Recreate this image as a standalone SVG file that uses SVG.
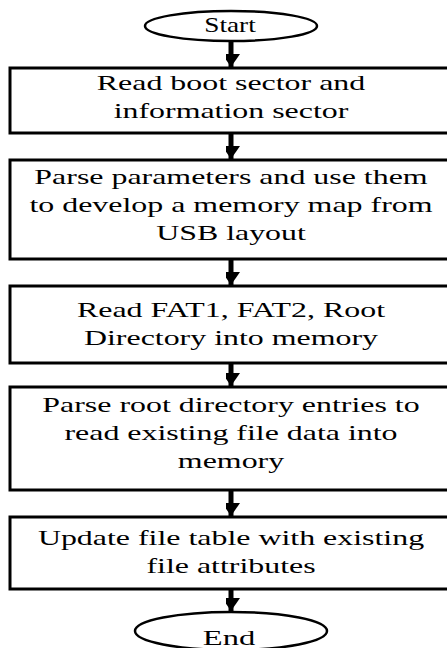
<svg xmlns="http://www.w3.org/2000/svg" width="447" height="648" viewBox="0 0 447 648">
  <style>
    .box { fill: #fff; stroke: #000; stroke-width: 3; }
    .term { fill: #fff; stroke: #000; stroke-width: 2.5; }
    .flow { stroke: #000; stroke-width: 5; fill: none; }
    .lbl { font-size: 21px; fill: #000; text-anchor: middle; }
  </style>
  <defs>
    <marker id="arrow" markerUnits="userSpaceOnUse" markerWidth="18" markerHeight="14" refX="13" refY="9" orient="auto">
      <path d="M0,0 L13,9 L0,18 Z" fill="#000"/>
    </marker>
  </defs>
  <rect width="447" height="648" fill="#fff"/>

  <g id="connectors">
    <line class="flow" x1="231" y1="41" x2="231" y2="67" marker-end="url(#arrow)"/>
    <line class="flow" x1="231" y1="133" x2="231" y2="159" marker-end="url(#arrow)"/>
    <line class="flow" x1="231" y1="259" x2="231" y2="285" marker-end="url(#arrow)"/>
    <line class="flow" x1="231" y1="363" x2="231" y2="386" marker-end="url(#arrow)"/>
    <line class="flow" x1="231" y1="490" x2="231" y2="516" marker-end="url(#arrow)"/>
    <line class="flow" x1="231" y1="589" x2="231" y2="611" marker-end="url(#arrow)"/>
  </g>

  <g font-family="Liberation Serif, DejaVu Serif, serif">
  <g id="start">
    <ellipse class="term" cx="231" cy="26" rx="86" ry="15"/>
    <text class="lbl" font-size="23" transform="translate(230,32) scale(1.3,1)">Start</text>
  </g>

  <g id="read-sectors">
    <rect class="box" x="10" y="68" width="445" height="65"/>
    <g transform="translate(231,0) scale(1.52,1)">
      <text class="lbl" x="0" y="90">Read boot sector and</text>
      <text class="lbl" x="0" y="118">information sector</text>
    </g>
  </g>

  <g id="parse-params">
    <rect class="box" x="10" y="160" width="445" height="99"/>
    <g transform="translate(231,0) scale(1.52,1)">
      <text class="lbl" x="0" y="184">Parse parameters and use them</text>
      <text class="lbl" x="0" y="212">to develop a memory map from</text>
      <text class="lbl" x="0" y="240">USB layout</text>
    </g>
  </g>

  <g id="read-fat">
    <rect class="box" x="10" y="286" width="445" height="77"/>
    <g transform="translate(231,0) scale(1.52,1)">
      <text class="lbl" x="0" y="317">Read FAT1, FAT2, Root</text>
      <text class="lbl" x="0" y="345">Directory into memory</text>
    </g>
  </g>

  <g id="parse-root">
    <rect class="box" x="10" y="387" width="445" height="103"/>
    <g transform="translate(231,0) scale(1.52,1)">
      <text class="lbl" x="0" y="412">Parse root directory entries to</text>
      <text class="lbl" x="0" y="440">read existing file data into</text>
      <text class="lbl" x="0" y="468">memory</text>
    </g>
  </g>

  <g id="update-table">
    <rect class="box" x="10" y="517" width="445" height="72"/>
    <g transform="translate(231,0) scale(1.52,1)">
      <text class="lbl" x="0" y="545">Update file table with existing</text>
      <text class="lbl" x="0" y="573">file attributes</text>
    </g>
  </g>

  <g id="end">
    <ellipse class="term" cx="231" cy="631" rx="96" ry="19"/>
    <text class="lbl" font-size="22" transform="translate(229,645) scale(1.55,1)">End</text>
  </g>
  </g>
</svg>
